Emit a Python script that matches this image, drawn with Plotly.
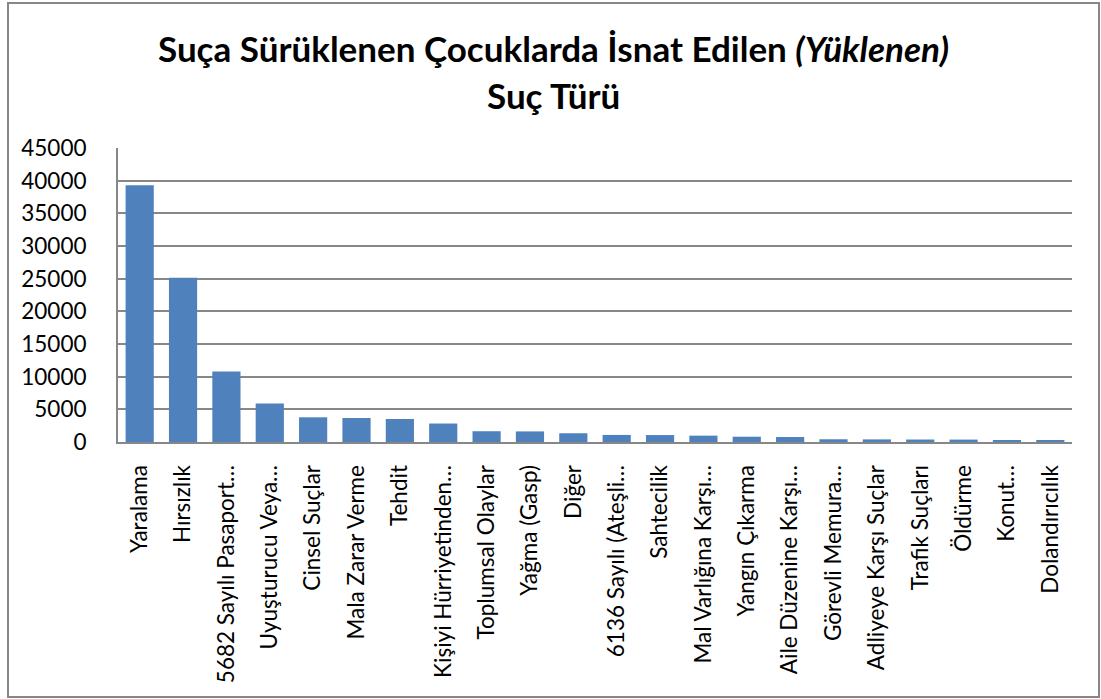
import plotly.graph_objects as go

categories = [
    "Yaralama", "Hırsızlık", "5682 Sayılı Pasaport…", "Uyuşturucu Veya…",
    "Cinsel Suçlar", "Mala Zarar Verme", "Tehdit", "Kişiyi Hürriyetinden…",
    "Toplumsal Olaylar", "Yağma (Gasp)", "Diğer", "6136 Sayılı (Ateşli…",
    "Sahtecilik", "Mal Varlığına Karşı…", "Yangın Çıkarma", "Aile Düzenine Karşı…",
    "Görevli Memura…", "Adliyeye Karşı Suçlar", "Trafik Suçları", "Öldürme",
    "Konut…", "Dolandırıcılık",
]
values = [
    39300, 25150, 10800, 5900, 3780, 3670, 3520, 2830,
    1650, 1620, 1340, 1080, 1060, 970, 810, 760,
    420, 400, 380, 370, 300, 240,
]
y_ticks = [0, 5000, 10000, 15000, 20000, 25000, 30000, 35000, 40000, 45000]

FONT = "Lato"
W, H = 1101, 699
L, R, T, B = 118, 29, 148, 257
pw, ph = W - L - R, H - T - B

def px_x(x):
    return (x - L) / pw

def px_y(y):
    return (H - B - y) / ph

fig = go.Figure(go.Bar(
    x=categories, y=values,
    marker=dict(color="#4F81BD", line=dict(width=0)),
    width=0.65,
))

fig.update_layout(
    width=W, height=H,
    margin=dict(l=L, r=R, t=T, b=B),
    paper_bgcolor="white", plot_bgcolor="white",
    showlegend=False,
    font=dict(family=FONT, color="black"),
)
fig.update_xaxes(
    type="category", tickangle=-90, tickfont=dict(size=22.5, family=FONT),
    showline=True, linecolor="#878787", linewidth=2,
    showgrid=False, ticks="", ticklabelstandoff=12,
)
fig.update_yaxes(
    range=[0, 45000], tickvals=y_ticks, ticktext=[str(v) for v in y_ticks],
    tickfont=dict(size=22.5, family=FONT),
    showgrid=True, gridcolor="#878787", gridwidth=1.5,
    showline=True, linecolor="#878787", linewidth=2,
    ticks="", ticklabelstandoff=25, zeroline=False,
)

fig.add_shape(type="rect", xref="paper", yref="paper",
              x0=px_x(8), x1=px_x(1099), y0=px_y(697), y1=px_y(3),
              line=dict(color="#878787", width=2), fillcolor="rgba(0,0,0,0)")

fig.add_annotation(
    text="<b>Suça Sürüklenen Çocuklarda İsnat Edilen <i>(Yüklenen)</i></b>",
    xref="paper", yref="paper", x=px_x(553), y=px_y(48),
    xanchor="center", yanchor="middle", showarrow=False,
    font=dict(size=35, family=FONT, color="black"),
)
fig.add_annotation(
    text="<b>Suç Türü</b>",
    xref="paper", yref="paper", x=px_x(553), y=px_y(95),
    xanchor="center", yanchor="middle", showarrow=False,
    font=dict(size=35, family=FONT, color="black"),
)

fig.write_html("out.html", config={"displayModeBar": False},
               post_script="document.body.style.margin='0';")
